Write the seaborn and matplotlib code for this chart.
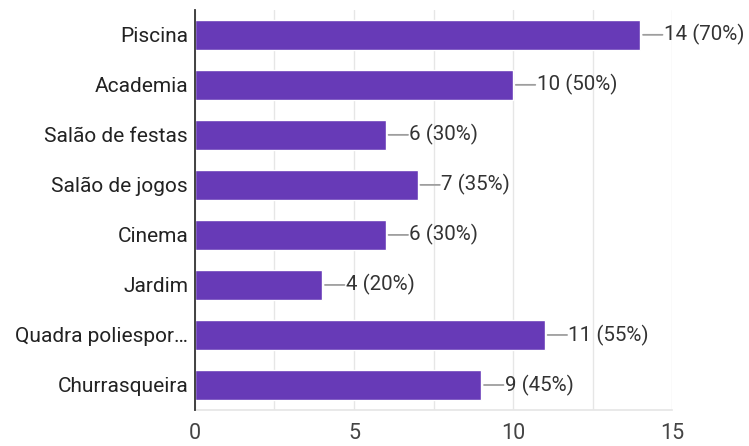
import matplotlib
matplotlib.use("Agg")
import matplotlib.pyplot as plt
import seaborn as sns
import pandas as pd
import numpy as np

categories = ["Piscina", "Academia", "Salão de festas", "Salão de jogos", "Cinema",
              "Jardim", "Quadra poliespor…", "Churrasqueira"]
counts = [14, 10, 6, 7, 6, 4, 11, 9]
percents = [70, 50, 30, 35, 30, 20, 55, 45]
xticks = [0, 5, 10, 15]

sns.set_theme(style="white")
plt.rcParams['font.family'] = ['Roboto', 'DejaVu Sans']

df = pd.DataFrame({"cat": categories, "n": counts})

fig = plt.figure(figsize=(7.49, 4.46), dpi=100)
ax = fig.add_axes([0.2603, 0.0807, 0.637, 0.8973])

sns.barplot(data=df, y="cat", x="n", color="#673ab7", saturation=1, width=0.6,
            orient="h", ax=ax, zorder=3)

ax.set_xlim(0, 15)
ax.set_ylim(7.5, -0.5)
ax.set_xticks(xticks)
ax.set_xticks(np.arange(0, 15.01, 2.5), minor=True)
ax.grid(True, axis="x", which="both", color="#e6e6e6", linewidth=1, zorder=0)
ax.set_xlabel("")
ax.set_ylabel("")
ax.tick_params(axis="x", labelsize=15.5, colors="#444444", pad=9, length=0, which="both")
ax.tick_params(axis="y", labelsize=15, colors="#222222", pad=5, length=0)

for s in ["top", "right"]:
    ax.spines[s].set_visible(False)
ax.spines["bottom"].set_color("#e6e6e6")
ax.spines["left"].set_color("#333333")
ax.spines["left"].set_linewidth(1.3)
ax.spines["left"].set_zorder(5)

for i, (n, p) in enumerate(zip(counts, percents)):
    ax.annotate("", xy=(n, i), xytext=(16, 0), textcoords="offset points",
                xycoords="data",
                arrowprops=dict(arrowstyle="-", color="#9e9e9e", lw=1.3,
                                shrinkA=0, shrinkB=2))
    ax.annotate(f"{n} ({p}%)", xy=(n, i), xytext=(17, 0), textcoords="offset points",
                va="center", ha="left", fontsize=14.8, color="#333333")

fig.savefig("out.png", dpi=100)
